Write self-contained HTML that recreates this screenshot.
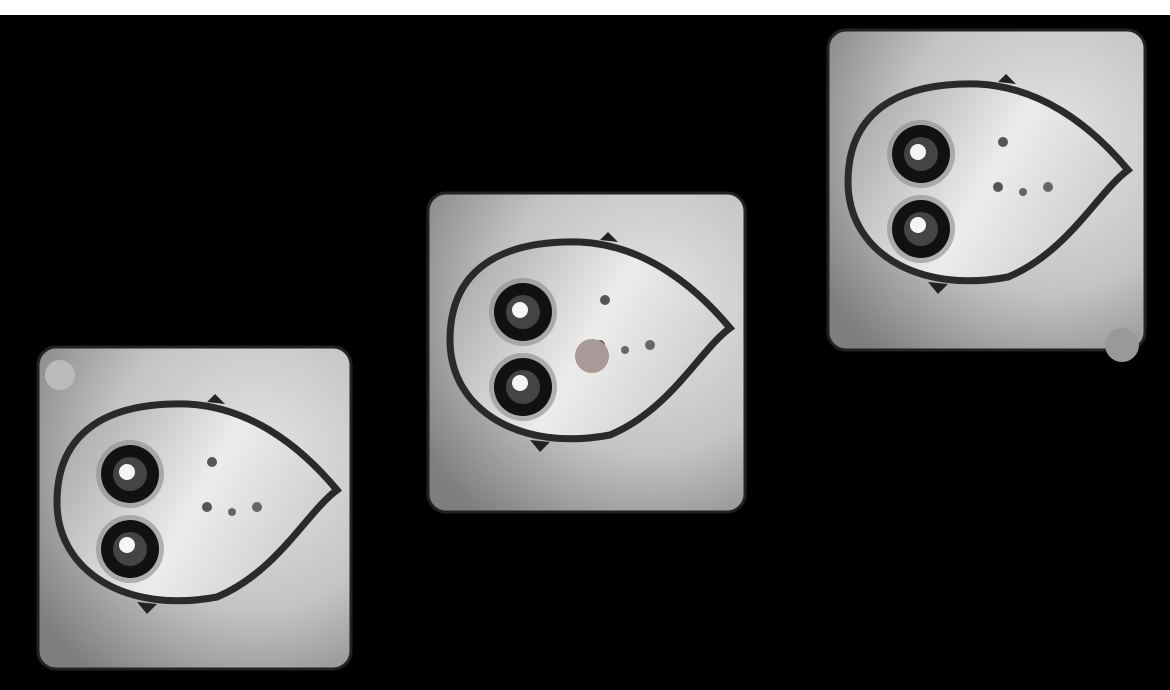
<!DOCTYPE html>
<html><head><meta charset="utf-8"><style>
html,body{margin:0;padding:0;background:#000;width:1170px;height:690px;overflow:hidden}
svg{display:block}
</style></head><body>
<svg width="1170" height="690" viewBox="0 0 1170 690">
<defs>
<radialGradient id="tg" cx="0.7" cy="0.35" r="0.85">
<stop offset="0" stop-color="#e4e4e4"/><stop offset="0.55" stop-color="#c4c4c4"/><stop offset="1" stop-color="#7e7e7e"/>
</radialGradient>
<linearGradient id="bg" x1="0" y1="0" x2="1" y2="0.4">
<stop offset="0" stop-color="#a0a0a0"/><stop offset="0.6" stop-color="#ececec"/><stop offset="1" stop-color="#d0d0d0"/>
</linearGradient>
<g id="bug">
<path d="M0,0 C0,-70 50,-100 130,-98 C190,-95 240,-60 280,-12 C250,10 220,70 160,95 C70,112 0,70 0,0Z" fill="url(#bg)" stroke="#2a2a2a" stroke-width="7"/>
<path d="M150,-100 l8,-8 10,10z" fill="#222"/>
<path d="M80,100 l10,12 10,-10z" fill="#222"/>
<circle cx="73" cy="-28" r="34" fill="#8a8a8a" opacity="0.6"/>
<circle cx="73" cy="47" r="34" fill="#8a8a8a" opacity="0.6"/>
<circle cx="73" cy="-28" r="29" fill="#111"/><circle cx="73" cy="-28" r="17" fill="#444"/><circle cx="70" cy="-30" r="8" fill="#f5f5f5"/>
<circle cx="73" cy="47" r="29" fill="#111"/><circle cx="73" cy="47" r="17" fill="#444"/><circle cx="70" cy="43" r="8" fill="#f5f5f5"/>
<circle cx="155" cy="-40" r="5" fill="#555"/><circle cx="150" cy="5" r="5" fill="#555"/><circle cx="200" cy="5" r="5" fill="#666"/><circle cx="175" cy="10" r="4" fill="#666"/>
</g>
</defs>
<rect x="0" y="0" width="1170" height="15" fill="#fff"/>
<g>
<rect x="38" y="347" width="313" height="322" rx="18" fill="url(#tg)" stroke="#222" stroke-width="3"/>
<circle cx="60" cy="375" r="15" fill="#bbb"/>
<use href="#bug" x="57" y="502"/>
</g>
<g>
<rect x="428" y="193" width="317" height="319" rx="18" fill="url(#tg)" stroke="#222" stroke-width="3"/>
<use href="#bug" x="450" y="340"/>
<circle cx="592" cy="356" r="17" fill="#a89a96"/>
</g>
<g>
<rect x="828" y="30" width="317" height="320" rx="18" fill="url(#tg)" stroke="#222" stroke-width="3"/>
<use href="#bug" x="848" y="182"/>
<circle cx="1122" cy="345" r="17" fill="#999"/>
</g>
</svg>
</body></html>
